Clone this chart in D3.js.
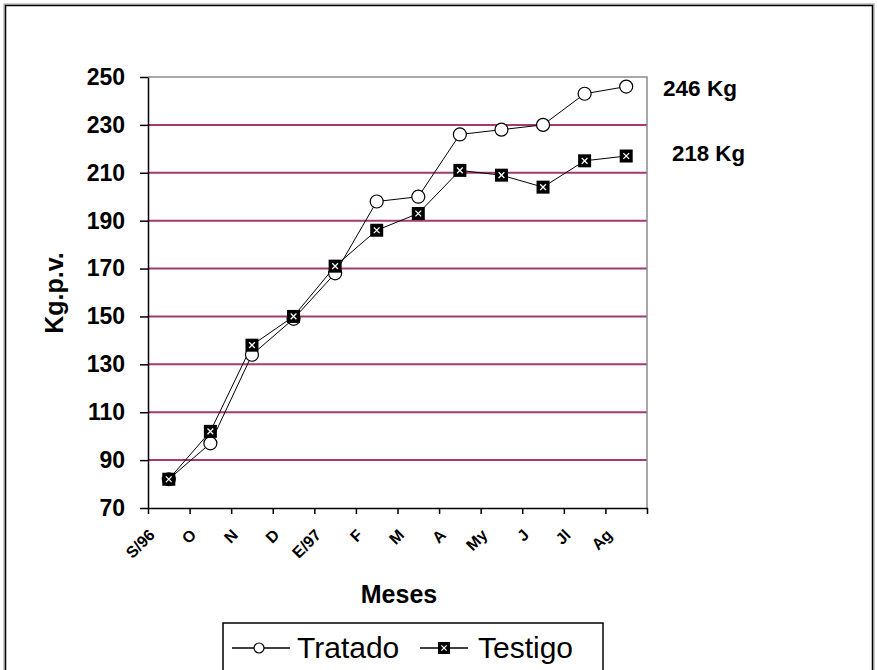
<!DOCTYPE html>
<html>
<head>
<meta charset="utf-8">
<script src="https://cdn.jsdelivr.net/npm/d3@7"></script>
<style>
  html, body { margin: 0; padding: 0; background: #fff; }
  svg { display: block; font-family: "Liberation Sans", Arial, sans-serif; }
</style>
</head>
<body>
<svg id="chart" width="877" height="670"></svg>
<script>
const months = ["S/96", "O", "N", "D", "E/97", "F", "M", "A", "My", "J", "Jl", "Ag"];
const tratado = [82, 97, 134, 149, 168, 198, 200, 226, 228, 230, 243, 246];
const testigo = [82, 102, 138, 150, 171, 186, 193, 211, 209, 204, 215, 217];
const yTicks = [70, 90, 110, 130, 150, 170, 190, 210, 230, 250];
const seriesNames = ["Tratado", "Testigo"];
const endLabels = ["246 Kg", "218 Kg"];

const svg = d3.select("#chart");

// outer frame
svg.append("rect").attr("x", 4).attr("y", 4).attr("width", 870).attr("height", 720)
  .attr("fill", "none").attr("stroke", "#9a9a9a").attr("stroke-width", 1);
svg.append("rect").attr("x", 5.5).attr("y", 5.5).attr("width", 867).attr("height", 720)
  .attr("fill", "none").attr("stroke", "#000").attr("stroke-width", 1.5);

const pLeft = 148, pRight = 647, pTop = 77, pBottom = 508;

const x = d3.scaleBand().domain(months).range([pLeft, pRight]).padding(0);
const xEdge = d3.scaleLinear().domain([0, months.length]).range([pLeft, pRight]);
const y = d3.scaleLinear().domain([70, 250]).range([pBottom, pTop]);
const cx = d => x(d) + x.bandwidth() / 2;

// gridlines
svg.append("g").selectAll("line").data(yTicks.filter(v => v > 70 && v < 250)).join("line")
  .attr("x1", pLeft).attr("x2", pRight)
  .attr("y1", d => y(d)).attr("y2", d => y(d))
  .attr("stroke", "#a33a72").attr("stroke-width", 2);

// plot border top/right
svg.append("path")
  .attr("d", `M${pLeft},${pTop}H${pRight}V${pBottom}`)
  .attr("fill", "none").attr("stroke", "#8c8c8c").attr("stroke-width", 1.5);

// y axis
const yAxis = svg.append("g").attr("transform", `translate(${pLeft},0)`)
  .call(d3.axisLeft(y).tickValues(yTicks).tickSize(8).tickPadding(15).tickSizeOuter(0));
yAxis.selectAll("text").attr("font-size", 23).attr("font-weight", "bold")
  .attr("font-family", "Liberation Sans, Arial, sans-serif").attr("fill", "#000");
yAxis.select(".domain").attr("stroke", "#000").attr("stroke-width", 1.5);
yAxis.selectAll(".tick line").attr("stroke", "#000").attr("stroke-width", 1.5);

// x axis (ticks at category edges)
const xAxis = svg.append("g").attr("transform", `translate(0,${pBottom})`)
  .call(d3.axisBottom(xEdge).tickValues(d3.range(months.length + 1)).tickSize(6).tickSizeOuter(0).tickFormat(""));
xAxis.select(".domain").attr("stroke", "#000").attr("stroke-width", 1.5);
xAxis.selectAll(".tick line").attr("stroke", "#000").attr("stroke-width", 1.5);

// x labels rotated 45 degrees, anchored at their end
svg.append("g").selectAll("text").data(months).join("text")
  .attr("transform", d => `translate(${cx(d) - 13},${pBottom + 28}) rotate(-45)`)
  .attr("text-anchor", "end")
  .attr("font-size", 16).attr("font-weight", "bold")
  .text(d => d);

// axis titles
svg.append("text").attr("transform", `translate(63,293) rotate(-90)`)
  .attr("text-anchor", "middle").attr("font-size", 25).attr("font-weight", "bold")
  .text("Kg.p.v.");
svg.append("text").attr("x", 399).attr("y", 603)
  .attr("text-anchor", "middle").attr("font-size", 25).attr("font-weight", "bold")
  .text("Meses");

// lines
const line = d3.line().x((d, i) => cx(months[i])).y(d => y(d));
svg.append("path").datum(testigo).attr("d", line)
  .attr("fill", "none").attr("stroke", "#000").attr("stroke-width", 1);
svg.append("path").datum(tratado).attr("d", line)
  .attr("fill", "none").attr("stroke", "#000").attr("stroke-width", 1);

// markers
function squareMarker(g, px, py, s) {
  g.append("rect").attr("x", px - s / 2).attr("y", py - s / 2).attr("width", s).attr("height", s)
    .attr("fill", "#000");
  const k = s * 0.22;
  g.append("path").attr("d", `M${px - k},${py - k}L${px + k},${py + k}M${px + k},${py - k}L${px - k},${py + k}`)
    .attr("stroke", "#fff").attr("stroke-width", 1.3);
}
function circleMarker(g, px, py, r) {
  g.append("circle").attr("cx", px).attr("cy", py).attr("r", r)
    .attr("fill", "#fff").attr("stroke", "#000").attr("stroke-width", 1.2);
}
const mt = svg.append("g");
tratado.forEach((v, i) => circleMarker(mt, cx(months[i]), y(v), 6.5));
const ms = svg.append("g");
testigo.forEach((v, i) => squareMarker(ms, cx(months[i]), y(v), 13));

// end labels
svg.append("text").attr("x", 663).attr("y", 96).attr("font-size", 22).attr("font-weight", "bold")
  .attr("textLength", 74).attr("lengthAdjust", "spacingAndGlyphs").text(endLabels[0]);
svg.append("text").attr("x", 672).attr("y", 161).attr("font-size", 22).attr("font-weight", "bold")
  .attr("textLength", 73).attr("lengthAdjust", "spacingAndGlyphs").text(endLabels[1]);

// legend
const lg = svg.append("g");
lg.append("rect").attr("x", 223).attr("y", 623).attr("width", 380).attr("height", 80)
  .attr("fill", "#fff").attr("stroke", "#000").attr("stroke-width", 1.5);
lg.append("line").attr("x1", 232).attr("x2", 290).attr("y1", 648).attr("y2", 648)
  .attr("stroke", "#000").attr("stroke-width", 1.3);
circleMarker(lg, 259, 648, 5);
lg.append("text").attr("x", 297).attr("y", 658).attr("font-size", 30).text(seriesNames[0]);
lg.append("line").attr("x1", 420).attr("x2", 468).attr("y1", 648).attr("y2", 648)
  .attr("stroke", "#000").attr("stroke-width", 1.3);
squareMarker(lg, 444, 648, 12);
lg.append("text").attr("x", 478).attr("y", 658).attr("font-size", 30).text(seriesNames[1]);
</script>
</body>
</html>
